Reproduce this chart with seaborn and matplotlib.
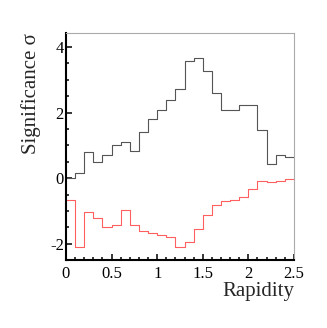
import matplotlib
matplotlib.use("Agg")
import matplotlib.pyplot as plt
import seaborn as sns
import numpy as np
import pandas as pd
from matplotlib.ticker import MultipleLocator, FormatStrFormatter

# rapidity bins 0 - 2.5, width 0.1
bin_edges = [round(0.1 * i, 1) for i in range(26)]
signif_pos = [0.0, 0.16, 0.80, 0.49, 0.72, 1.02, 1.10, 0.84, 1.41, 1.81,
              2.09, 2.39, 2.72, 3.57, 3.66, 3.26, 2.60, 2.09, 2.08, 2.22,
              2.22, 1.46, 0.43, 0.70, 0.63]
signif_neg = [-0.66, -2.10, -1.03, -1.23, -1.49, -1.43, -0.96, -1.43, -1.62, -1.68,
              -1.73, -1.79, -2.11, -1.95, -1.55, -1.12, -0.82, -0.71, -0.66, -0.59,
              -0.34, -0.10, -0.12, -0.08, -0.02]
x_ticks = [0, 0.5, 1, 1.5, 2, 2.5]
y_ticks = [-2, 0, 2, 4]

sns.set_style("ticks")
plt.rcParams['font.family'] = ['Liberation Serif', 'DejaVu Serif']
plt.rcParams['axes.unicode_minus'] = False

def step_frame(vals, name):
    # steps-post needs the last value repeated at the upper edge
    return pd.DataFrame({"rapidity": bin_edges, "sig": list(vals) + [vals[-1]], "set": name})

fig = plt.figure(figsize=(3.27, 3.28), dpi=100)
ax = fig.add_axes([0.2018, 0.2073, 0.6972, 0.692])

sns.lineplot(data=step_frame(signif_pos, "pos"), x="rapidity", y="sig", estimator=None,
             drawstyle="steps-post", color="#555555", linewidth=0.8, ax=ax)
sns.lineplot(data=step_frame(signif_neg, "neg"), x="rapidity", y="sig", estimator=None,
             drawstyle="steps-post", color="#ff5f5f", linewidth=0.8, ax=ax)

ax.set_xlim(0, 2.5)
ax.set_ylim(-2.5, 4.43)
ax.set_xticks(x_ticks)
ax.set_yticks(y_ticks)
ax.xaxis.set_minor_locator(MultipleLocator(0.1))
ax.yaxis.set_minor_locator(MultipleLocator(0.5))
ax.xaxis.set_major_formatter(FormatStrFormatter('%g'))
ax.yaxis.set_major_formatter(FormatStrFormatter('%g'))

ax.tick_params(which="both", direction="in", width=1.1, labelsize=12, colors="black")
ax.tick_params(which="major", length=4.5)
ax.tick_params(which="minor", length=2.3)
ax.tick_params(axis="x", pad=4.5)
ax.tick_params(axis="y", pad=1.5)

for side in ["left", "bottom"]:
    ax.spines[side].set_color("black")
    ax.spines[side].set_linewidth(1.5)
for side in ["top", "right"]:
    ax.spines[side].set_visible(True)
    ax.spines[side].set_color("#aaaaaa")
    ax.spines[side].set_linewidth(0.8)

ax.set_xlabel("Rapidity", fontsize=15, loc="right")
ax.set_ylabel("Significance σ", fontsize=15, loc="top")
ax.xaxis.set_label_coords(1.0, -0.095)
ax.yaxis.set_label_coords(-0.108, 1.0)

fig.savefig("out.png", dpi=100)
plt.close(fig)
